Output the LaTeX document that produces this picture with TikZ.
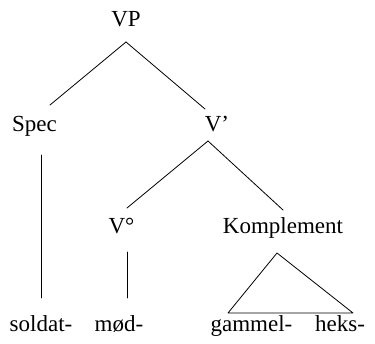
\documentclass[tikz,border=0pt]{standalone}
\usepackage{fontspec}
\setmainfont{Liberation Serif}
\begin{document}
\begin{tikzpicture}[x=1pt, y=1pt, line join=round, line cap=round,
    lbl/.style={anchor=base, inner sep=0pt, font=\fontsize{23}{27}\selectfont},
    branch/.style={line width=0.8pt}]
    \useasboundingbox (0,0) rectangle (375,344);
    % Knoten
    \node[lbl] (vp)     at (126,317)   {VP};
    \node[lbl] (spec)   at (34.5,212)  {Spec};
    \node[lbl] (vbar)   at (217,212)   {V’};
    \node[lbl] (vnull)  at (121.5,110) {V°};
    \node[lbl] (komp)   at (283,110)   {Komplement};
    \node[lbl] (soldat) at (41,12)     {soldat-};
    \node[lbl] (mod)    at (119,12)    {mød-};
    \node[lbl] (gammel) at (251.5,12)  {gammel-};
    \node[lbl] (heks)   at (340,12)    {heks-};
    % Kanten
    \draw[branch] ([yshift=-15pt]vp.base) -- ([shift={(15.5pt,27pt)}]spec.base);
    \draw[branch] ([yshift=-15pt]vp.base) -- ([shift={(-12pt,23pt)}]vbar.base);
    \draw[branch] ([shift={(-9pt,-9pt)}]vbar.base) -- ([shift={(5.5pt,26pt)}]vnull.base);
    \draw[branch] ([shift={(-9pt,-9pt)}]vbar.base) -- ([yshift=24pt]komp.base);
    \draw[branch] ([shift={(6.5pt,-23pt)}]spec.base) -- ([yshift=34pt]soldat.base);
    \draw[branch] ([shift={(5.5pt,-18pt)}]vnull.base) -- ([shift={(8pt,34pt)}]mod.base);
    % Dreieck
    \draw[branch] ([shift={(-6pt,-19pt)}]komp.base) -- ([shift={(-23.5pt,19pt)}]gammel.base)
        -- ([shift={(13pt,19pt)}]heks.base) -- cycle;
\end{tikzpicture}
\end{document}
